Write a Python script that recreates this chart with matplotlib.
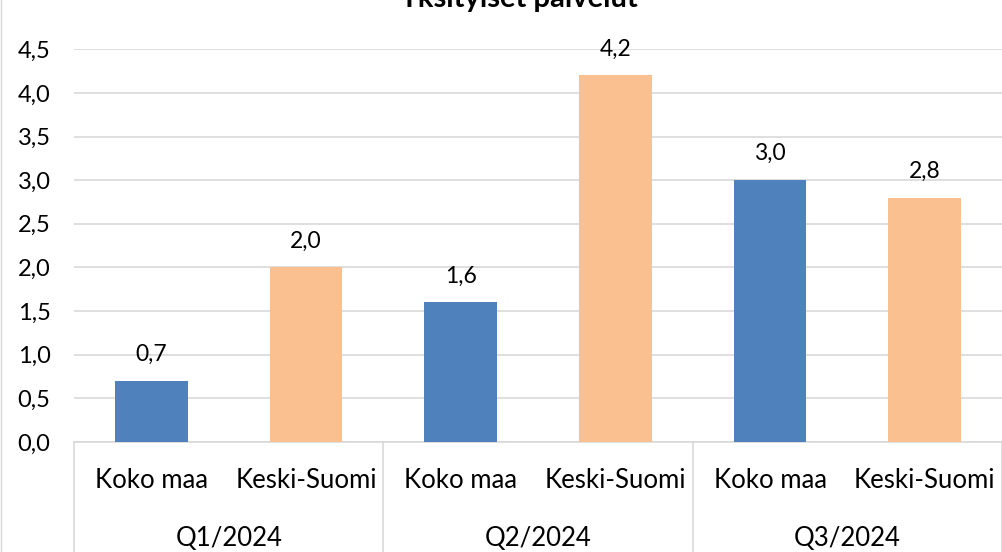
import matplotlib
matplotlib.use('Agg')
import matplotlib.pyplot as plt
import numpy as np
from matplotlib.lines import Line2D

plt.rcParams['font.family'] = ['Lato', 'DejaVu Sans']

# data
quarters = ['Q1/2024', 'Q2/2024', 'Q3/2024']
regions = ['Koko maa', 'Keski-Suomi']
koko_maa = [0.7, 1.6, 3.0]
keski_suomi = [2.0, 4.2, 2.8]
y_ticks = [0.0, 0.5, 1.0, 1.5, 2.0, 2.5, 3.0, 3.5, 4.0, 4.5]
title = 'Yksityiset palvelut'

BLUE = '#4F81BD'
ORANGE = '#FAC090'
GRID = '#D9D9D9'

W, H = 1002, 552
fig = plt.figure(figsize=(W / 100, H / 100), dpi=100)
ax = fig.add_axes([74.1 / W, 110 / H, (W - 74.1) / W, 392.7 / H])


def fmt(v):
    return f"{v:.1f}".replace('.', ',')


n = len(quarters)
x_kk = np.arange(n) * 2
x_ks = np.arange(n) * 2 + 1
bw = 0.47
ax.bar(x_kk, koko_maa, width=bw, color=BLUE, zorder=3)
ax.bar(x_ks, keski_suomi, width=bw, color=ORANGE, zorder=3)

for xs, vals in ((x_kk, koko_maa), (x_ks, keski_suomi)):
    for x, v in zip(xs, vals):
        ax.annotate(fmt(v), (x, v), xytext=(0, 19), textcoords='offset points',
                    ha='center', va='center', fontsize=16.5, color='#000000')

ax.set_xlim(-0.5, 2 * n - 0.5)
ax.set_ylim(0, 4.5)
ax.set_yticks(y_ticks)
ax.set_yticklabels([fmt(v) for v in y_ticks], fontsize=17)
ax.tick_params(axis='y', length=0, pad=17)
ax.set_xticks([])
ax.grid(axis='y', color=GRID, linewidth=1.2, zorder=0)
ax.set_axisbelow(True)
for s in ('left', 'right', 'top'):
    ax.spines[s].set_visible(False)
ax.spines['bottom'].set_color(GRID)
ax.spines['bottom'].set_linewidth(1.2)

# multi-level category axis
trans = ax.get_xaxis_transform()
for i in range(n + 1):
    ax.plot([2 * i - 0.5, 2 * i - 0.5], [0, -0.3], transform=trans,
            color=GRID, linewidth=1.2, clip_on=False)
for i, q in enumerate(quarters):
    for j, r in enumerate(regions):
        ax.text(2 * i + j, -0.0993, r, transform=trans, ha='center', va='center',
                fontsize=18.5)
    ax.text(2 * i + 0.5, -0.2445, q, transform=trans, ha='center', va='center',
            fontsize=18.5)

# chart title (cut off at top of image)
fig.text(0.5177, 1 - 6.5 / H, title, ha='center', va='baseline',
         fontsize=21, fontweight='bold')

# chart border on the left edge
fig.add_artist(Line2D([0.0007, 0.0007], [0, 1], transform=fig.transFigure,
                      color=GRID, linewidth=1))

fig.savefig('out.png', dpi=100)
